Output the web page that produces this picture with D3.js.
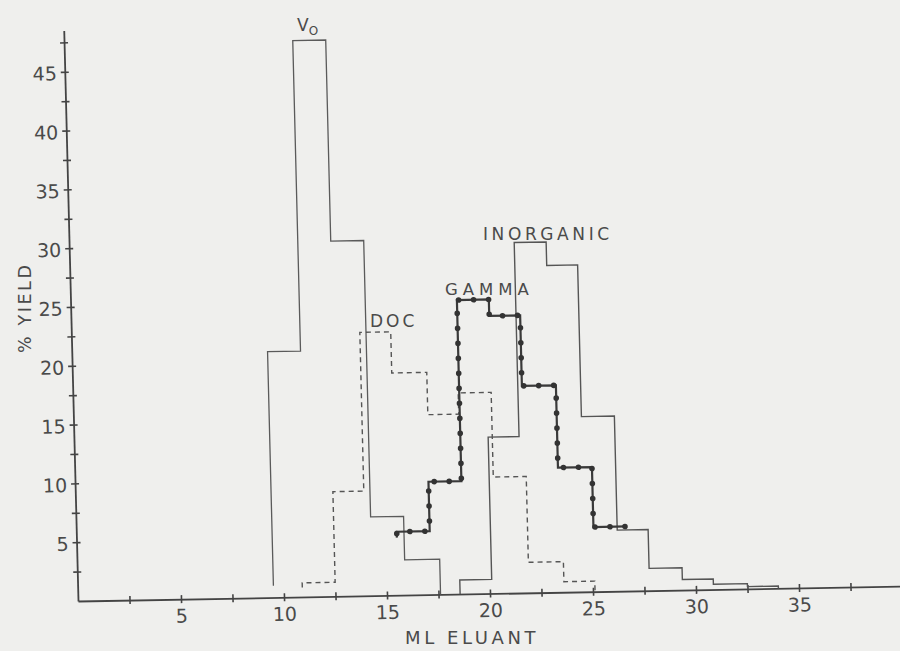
<!DOCTYPE html>
<html>
<head>
<meta charset="utf-8">
<script src="https://cdn.jsdelivr.net/npm/d3@7"></script>
<style>
  body { margin: 0; background: #efefed; }
  svg { display: block; }
  text { font-family: "DejaVu Sans", sans-serif; fill: #4a4a4a; }
</style>
</head>
<body>
<svg id="chart" width="900" height="651"></svg>
<script>
// Axis ticks (ml eluant, % yield)
const xTicks = [2.5, 5, 7.5, 10, 12.5, 15, 17.5, 20, 22.5, 25, 27.5, 30, 32.5, 35, 37.5];
const xTickLabels = [5, 10, 15, 20, 25, 30, 35];
const yTicks = [2.5, 5, 7.5, 10, 12.5, 15, 17.5, 20, 22.5, 25, 27.5, 30, 32.5, 35, 37.5, 40, 42.5, 45, 47.5];
const yTickLabels = [5, 10, 15, 20, 25, 30, 35, 40, 45];

// Void-volume fraction (V0)
const v0Edges = [9.5, 11.1, 12.7, 14.3, 15.9, 17.6];
const v0Yield = [20.9, 47.3, 30.2, 6.7, 3.0];
const v0Ends = [1.0, 0];

// Dissolved organic carbon
const docEdges = [10.9, 12.5, 14.0, 15.5, 17.2, 18.7, 20.3, 21.9, 23.6, 25.1];
const docYield = [1.2, 8.9, 22.4, 18.9, 15.3, 17.1, 9.9, 2.6, 0.9];
const docEnds = [0.8, 0];

// Gamma activity
const gammaEdges = [15.55, 17.15, 18.75, 20.3, 21.8, 23.45, 25.1, 26.7];
const gammaYield = [5.4, 9.6, 25.0, 23.6, 17.6, 10.6, 5.5];
const gammaEnds = [4.9, null];

// Inorganic fraction
const inorgEdges = [18.55, 20.1, 21.6, 23.15, 24.65, 26.25, 27.75, 29.35, 30.85, 32.5, 34.0];
const inorgYield = [1.2, 13.3, 29.8, 27.8, 14.9, 5.2, 1.9, 0.9, 0.45, 0.2];
const inorgEnds = [0, 0];

const svg = d3.select("#chart");

const x = d3.scaleLinear().domain([0, 40]).range([0, 824]);
const y = d3.scaleLinear().domain([0, 48.5]).range([0, -570.4]);

// the plotted sheet sits slightly tilted on the page
const g = svg.append("g")
  .attr("transform", "matrix(1,-0.018,0.025,1,78,601)");

function stepPoints(edges, vals, ends) {
  const pts = [];
  if (ends[0] !== null) pts.push([edges[0], ends[0]]);
  vals.forEach((v, i) => {
    pts.push([edges[i], v]);
    pts.push([edges[i + 1], v]);
  });
  if (ends[1] !== null) pts.push([edges[edges.length - 1], ends[1]]);
  return pts;
}
const line = d3.line().x(d => x(d[0])).y(d => y(d[1]));

// axes
const xAxis = d3.axisBottom(x)
  .tickValues(xTicks)
  .tickFormat(d => xTickLabels.includes(d) ? d : "")
  .tickSizeInner(4).tickSizeOuter(0).tickPadding(6);
const gx = g.append("g").call(xAxis);
gx.select(".domain").attr("stroke", "#444").attr("stroke-width", 1.8);
gx.selectAll(".tick line").attr("y1", -4).attr("stroke", "#444").attr("stroke-width", 1.6);
gx.selectAll(".tick text").attr("font-size", 19).attr("fill", "#4a4a4a")
  .attr("font-family", "DejaVu Sans, sans-serif");

const yAxis = d3.axisLeft(y)
  .tickValues(yTicks)
  .tickFormat(d => yTickLabels.includes(d) ? d : "")
  .tickSizeInner(4).tickSizeOuter(0).tickPadding(4);
const gy = g.append("g").call(yAxis);
gy.select(".domain").attr("stroke", "#444").attr("stroke-width", 1.8);
gy.selectAll(".tick line").attr("x1", 4).attr("stroke", "#444").attr("stroke-width", 1.6);
gy.selectAll(".tick text").attr("font-size", 19).attr("fill", "#4a4a4a")
  .attr("dy", "0.42em")
  .attr("font-family", "DejaVu Sans, sans-serif");

// histograms
g.append("path")
  .attr("d", line(stepPoints(v0Edges, v0Yield, v0Ends)))
  .attr("fill", "none").attr("stroke", "#5a5a5a").attr("stroke-width", 1.3);

g.append("path")
  .attr("d", line(stepPoints(inorgEdges, inorgYield, inorgEnds)))
  .attr("fill", "none").attr("stroke", "#555").attr("stroke-width", 1.4);

g.append("path")
  .attr("d", line(stepPoints(docEdges, docYield, docEnds)))
  .attr("fill", "none").attr("stroke", "#555").attr("stroke-width", 1.4)
  .attr("stroke-dasharray", "5,4");

const gammaPath = g.append("path")
  .attr("d", line(stepPoints(gammaEdges, gammaYield, gammaEnds)))
  .attr("fill", "none").attr("stroke", "#3a3a3a").attr("stroke-width", 2.2);

// dotted markers along the gamma trace
const gp = gammaPath.node();
const total = gp.getTotalLength();
const dots = d3.range(4, total, 15).map(l => gp.getPointAtLength(l));
g.selectAll("circle.gdot").data(dots).join("circle")
  .attr("class", "gdot")
  .attr("cx", d => d.x).attr("cy", d => d.y).attr("r", 2.8)
  .attr("fill", "#333");

// annotations
const v0Label = svg.append("text").attr("x", 297).attr("y", 31).attr("font-size", 17);
v0Label.append("tspan").text("V");
v0Label.append("tspan").attr("font-size", 12).attr("dy", 4).text("O");

svg.append("text").attr("x", 370).attr("y", 327).attr("font-size", 17)
  .attr("letter-spacing", 3).text("DOC");
svg.append("text").attr("x", 445).attr("y", 295).attr("font-size", 16.5)
  .attr("letter-spacing", 5).text("GAMMA");
svg.append("text").attr("x", 483).attr("y", 240).attr("font-size", 17)
  .attr("letter-spacing", 3.6).text("INORGANIC");

svg.append("text").attr("x", 405).attr("y", 644).attr("font-size", 18)
  .attr("letter-spacing", 3.6).text("ML ELUANT");

svg.append("text")
  .attr("transform", "translate(31,353) rotate(-90)")
  .attr("font-size", 17.5).attr("letter-spacing", 2.6)
  .text("% YIELD");
</script>
</body>
</html>
